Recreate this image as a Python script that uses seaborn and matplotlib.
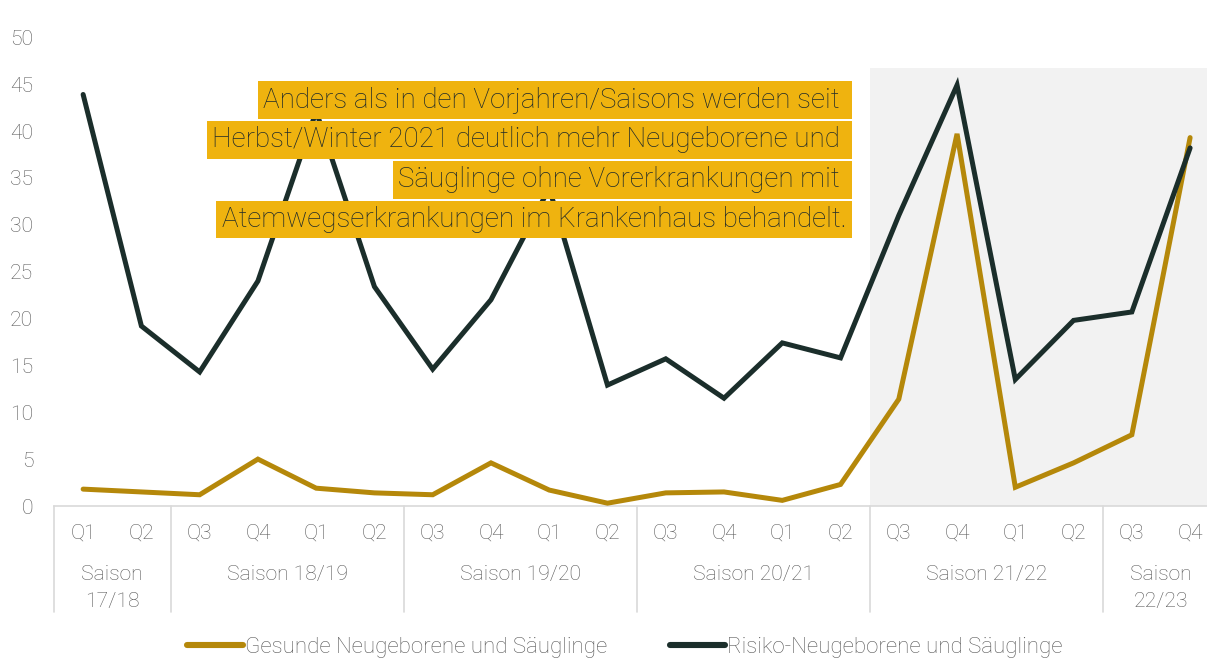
import pandas as pd
import matplotlib as mpl
mpl.use('Agg')
import matplotlib.pyplot as plt
import seaborn as sns

# data
quarters = ["Q1", "Q2", "Q3", "Q4", "Q1", "Q2", "Q3", "Q4", "Q1", "Q2",
            "Q3", "Q4", "Q1", "Q2", "Q3", "Q4", "Q1", "Q2", "Q3", "Q4"]
seasons = ["Saison\n17/18", "Saison 18/19", "Saison 19/20", "Saison 20/21",
           "Saison 21/22", "Saison\n22/23"]
season_len = [2, 4, 4, 4, 4, 2]
gesund = [1.8, 1.5, 1.2, 5.0, 1.9, 1.4, 1.2, 4.6, 1.7, 0.3,
          1.4, 1.5, 0.6, 2.3, 11.4, 39.7, 2.0, 4.6, 7.6, 39.3]
risiko = [43.9, 19.2, 14.3, 24.0, 42.1, 23.4, 14.6, 22.0, 33.9, 12.9,
          15.7, 11.5, 17.4, 15.8, 31.0, 44.9, 13.5, 19.8, 20.7, 38.2]
series_names = ["Gesunde Neugeborene und Säuglinge", "Risiko-Neugeborene und Säuglinge"]
note_lines = ["Anders als in den Vorjahren/Saisons werden seit ",
              "Herbst/Winter 2021 deutlich mehr Neugeborene und ",
              "Säuglinge ohne Vorerkrankungen mit ",
              "Atemwegserkrankungen im Krankenhaus behandelt."]
highlight_start = 14  # first quarter of the shaded period (Saison 21/22)
highlight_top = 46.7

GOLD = "#B5880A"
DARK = "#1B2E2B"
HL = "#EFB30F"
GREY = "#595959"
FS = 15.2

df = pd.DataFrame({
    "idx": list(range(len(quarters))) * 2,
    "wert": gesund + risiko,
    "serie": [series_names[0]] * len(gesund) + [series_names[1]] * len(risiko),
})

sns.set_style("white")
plt.rcParams['font.family'] = ['Roboto', 'DejaVu Sans']

fig = plt.figure(figsize=(12.07, 6.59), dpi=100)
ax = fig.add_axes([54 / 1207, 153 / 659, 1 - 54 / 1207, 468.7 / 659])

ax.axvspan(highlight_start - 0.5, len(quarters), ymin=0, ymax=highlight_top / 50,
           color="#F2F2F2", lw=0, zorder=0)

sns.lineplot(data=df, x="idx", y="wert", hue="serie", palette=[GOLD, DARK],
             linewidth=3.6, ax=ax, legend=False, zorder=3,
             solid_capstyle="round", solid_joinstyle="miter")

ax.set_xlim(-0.5, 19.29)
ax.set_ylim(0, 50)
ax.set_yticks(range(0, 51, 5))
ax.set_xticks(range(len(quarters)))
ax.set_xticklabels(quarters)
ax.tick_params(axis="both", length=0, labelsize=FS, colors=GREY)
ax.tick_params(axis="x", pad=13)
ax.tick_params(axis="y", pad=15)
for lbl in ax.get_yticklabels() + ax.get_xticklabels():
    lbl.set_fontweight("light")
ax.set_xlabel("")
ax.set_ylabel("")
for s in ["top", "right", "left"]:
    ax.spines[s].set_visible(False)
ax.spines["bottom"].set_color("#D9D9D9")
ax.spines["bottom"].set_linewidth(1.2)

# season group separators and labels
tr = ax.get_xaxis_transform()
start = 0
for name, n in zip(seasons, season_len):
    ax.plot([start - 0.5, start - 0.5], [0, -0.226], transform=tr, color="#D9D9D9",
            lw=1.2, clip_on=False)
    ax.text(start + (n - 1) / 2, -0.126, name, transform=tr, ha="center", va="top",
            fontsize=FS, color=GREY, fontweight="light", linespacing=1.52)
    start += n

# annotation
for i, line in enumerate(note_lines):
    ax.text(13.1, 43.3 - i * 4.25, line, ha="right", va="center", fontsize=20,
            color="#1F2A2A", fontweight="light", zorder=5,
            bbox=dict(boxstyle="square,pad=0.19", fc=HL, ec="none"))

handles = [mpl.lines.Line2D([], [], color=GOLD, lw=4.4, solid_capstyle="round"),
           mpl.lines.Line2D([], [], color=DARK, lw=4.4, solid_capstyle="round")]
fig.legend(handles, series_names, loc="center", bbox_to_anchor=(0.518, 0.018),
           ncol=2, frameon=False, handlelength=2.5,
           handletextpad=0.1, columnspacing=2.8, labelcolor=GREY,
           prop={"weight": "light", "size": 16})

fig.savefig("out.png", dpi=100)
